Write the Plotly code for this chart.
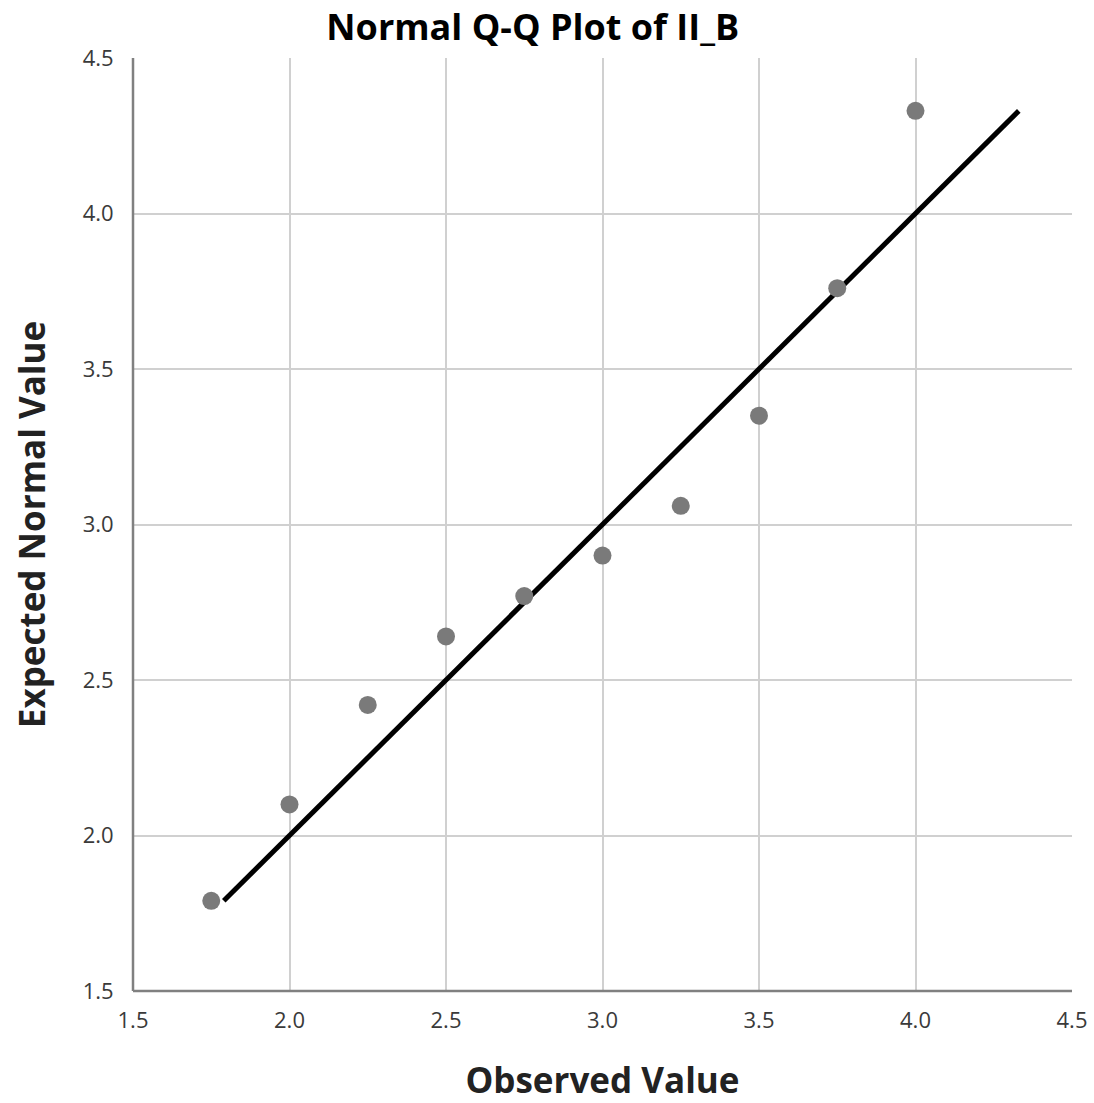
import plotly.graph_objects as go

observed = [1.75, 2.0, 2.25, 2.5, 2.75, 3.0, 3.25, 3.5, 3.75, 4.0]
expected = [1.79, 2.10, 2.42, 2.64, 2.77, 2.90, 3.06, 3.35, 3.76, 4.33]
line_x = [1.79, 4.33]
line_y = [1.79, 4.33]
ticks = [1.5, 2.0, 2.5, 3.0, 3.5, 4.0, 4.5]
tick_text = ["1.5", "2.0", "2.5", "3.0", "3.5", "4.0", "4.5"]

fig = go.Figure()
fig.add_trace(go.Scatter(x=line_x, y=line_y, mode="lines",
                         line=dict(color="black", width=5), showlegend=False))
fig.add_trace(go.Scatter(x=observed, y=expected, mode="markers",
                         marker=dict(color="#7a7a7a", size=18), showlegend=False))

axis_common = dict(
    range=[1.5, 4.5], tickvals=ticks, ticktext=tick_text,
    showgrid=True, gridcolor="#d0d0d0", gridwidth=2,
    zeroline=False, showline=False, automargin=False,
    ticks="outside", tickcolor="rgba(0,0,0,0)",
    tickfont=dict(family="Open Sans", size=22, color="#3a3a3a"),
)

fig.update_layout(
    width=1094, height=1103,
    paper_bgcolor="white", plot_bgcolor="white",
    margin=dict(l=133, r=22, t=58, b=112),
    title=dict(text="<b>Normal Q-Q Plot of II_B</b>", x=0.487, xanchor="center",
               y=0.975, yanchor="middle",
               font=dict(family="Open Sans", size=36, color="black")),
    xaxis=dict(**axis_common, ticklen=10,
               title=dict(text="<b>Observed Value</b>", standoff=38,
                          font=dict(family="Open Sans", size=35, color="#222222"))),
    yaxis=dict(**axis_common, ticklen=14,
               title=dict(text="<b>Expected Normal Value</b>", standoff=26,
                          font=dict(family="Open Sans", size=35, color="#222222"))),
)

# frame lines: darker on left/bottom
fig.add_shape(type="line", xref="paper", yref="paper", x0=0, x1=0, y0=0, y1=1,
              line=dict(color="#808080", width=2.5))
fig.add_shape(type="line", xref="paper", yref="paper", x0=0, x1=1, y0=0, y1=0,
              line=dict(color="#808080", width=2.5))

fig.write_html("out.html")
